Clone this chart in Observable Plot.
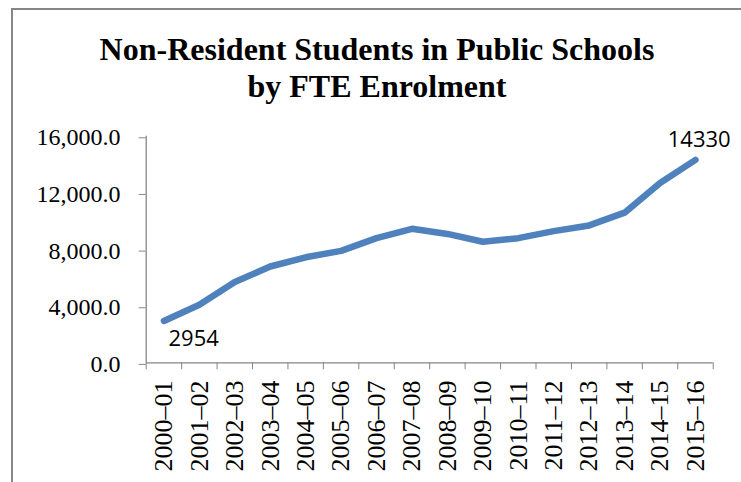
<!DOCTYPE html>
<html>
<head>
<meta charset="utf-8">
<script src="https://cdn.jsdelivr.net/npm/d3@7"></script>
<script src="https://cdn.jsdelivr.net/npm/@observablehq/plot@0.6"></script>
<style>
  html, body { margin: 0; padding: 0; overflow: hidden; background: #fff; width: 741px; height: 482px; }
  #frame { position: absolute; left: 11px; top: 8px; width: 728px; height: 472px;
           border-top: 2px solid #878787; border-left: 2px solid #878787; z-index: 2; pointer-events: none; }
  #title { position: absolute; left: 12px; width: 730px; top: 31px; text-align: center;
           font-family: "Liberation Serif", "Times New Roman", serif; font-weight: bold;
           font-size: 32px; line-height: 37px; color: #000; }
  #chart { position: absolute; left: 0; top: 110px; }
</style>
</head>
<body>
<div id="frame"></div>
<div id="title">Non-Resident Students in Public Schools<br>by FTE Enrolment</div>
<div id="chart"></div>
<script>
const categories = ["2000–01","2001–02","2002–03","2003–04","2004–05","2005–06","2006–07","2007–08",
                    "2008–09","2009–10","2010–11","2011–12","2012–13","2013–14","2014–15","2015–16"];
const values = [2954, 4100, 5700, 6800, 7450, 7900, 8800, 9460, 9100, 8550, 8800, 9300, 9700, 10600, 12700, 14330];
const yTicks = [0, 4000, 8000, 12000, 16000];

const n = categories.length;
const data = categories.map((c, i) => ({i, c, v: values[i]}));
const centers = d3.range(n);
const boundaries = d3.range(n + 1).map(k => k - 0.5);
const axisGray = "#868686";

const chart = Plot.plot({
  width: 741,
  height: 372,
  marginTop: 25.7,
  marginBottom: 119.7,
  marginLeft: 145.7,
  marginRight: 28.3,
  style: {background: "none", fontFamily: "Liberation Serif", fontSize: "22px", color: "#000", overflow: "visible"},
  x: {type: "linear", domain: [-0.5, n - 0.5], label: null},
  y: {domain: [0, 16000], label: null},
  marks: [
    Plot.axisY({ticks: yTicks, tickFormat: d3.format(",.1f"), tickSize: 7, tickPadding: 18.7,
                fontSize: 24, fontFamily: "Liberation Serif", stroke: axisGray, fill: "#000", dy: 1.6, label: null}),
    Plot.axisX({ticks: boundaries, tickSize: 7, tickFormat: () => "", stroke: axisGray, label: null}),
    Plot.axisX({ticks: centers, tickSize: 0, tickFormat: i => categories[i], tickRotate: -90, tickPadding: 17.7,
                fontSize: 26, fontFamily: "Liberation Serif", fill: "#000", label: null}),
    Plot.ruleY([0], {stroke: axisGray, strokeWidth: 1.3}),
    Plot.ruleX([-0.5], {stroke: axisGray, strokeWidth: 1.3}),
    Plot.line(data, {x: "i", y: "v", stroke: "#4F81BD", strokeWidth: 6.5,
                     strokeLinecap: "round", strokeLinejoin: "round"}),
    Plot.text([data[0]], {x: "i", y: "v", text: d => String(d.v), textAnchor: "start",
                          dx: 4.6, dy: 18.1, fontSize: 22, fontFamily: "Open Sans", fill: "#000"}),
    Plot.text([data[n - 1]], {x: "i", y: "v", text: d => String(d.v), textAnchor: "start",
                              dx: -27.7, dy: -19.8, fontSize: 22, fontFamily: "Open Sans", fill: "#000"})
  ]
});
document.getElementById("chart").appendChild(chart);
</script>
</body>
</html>
